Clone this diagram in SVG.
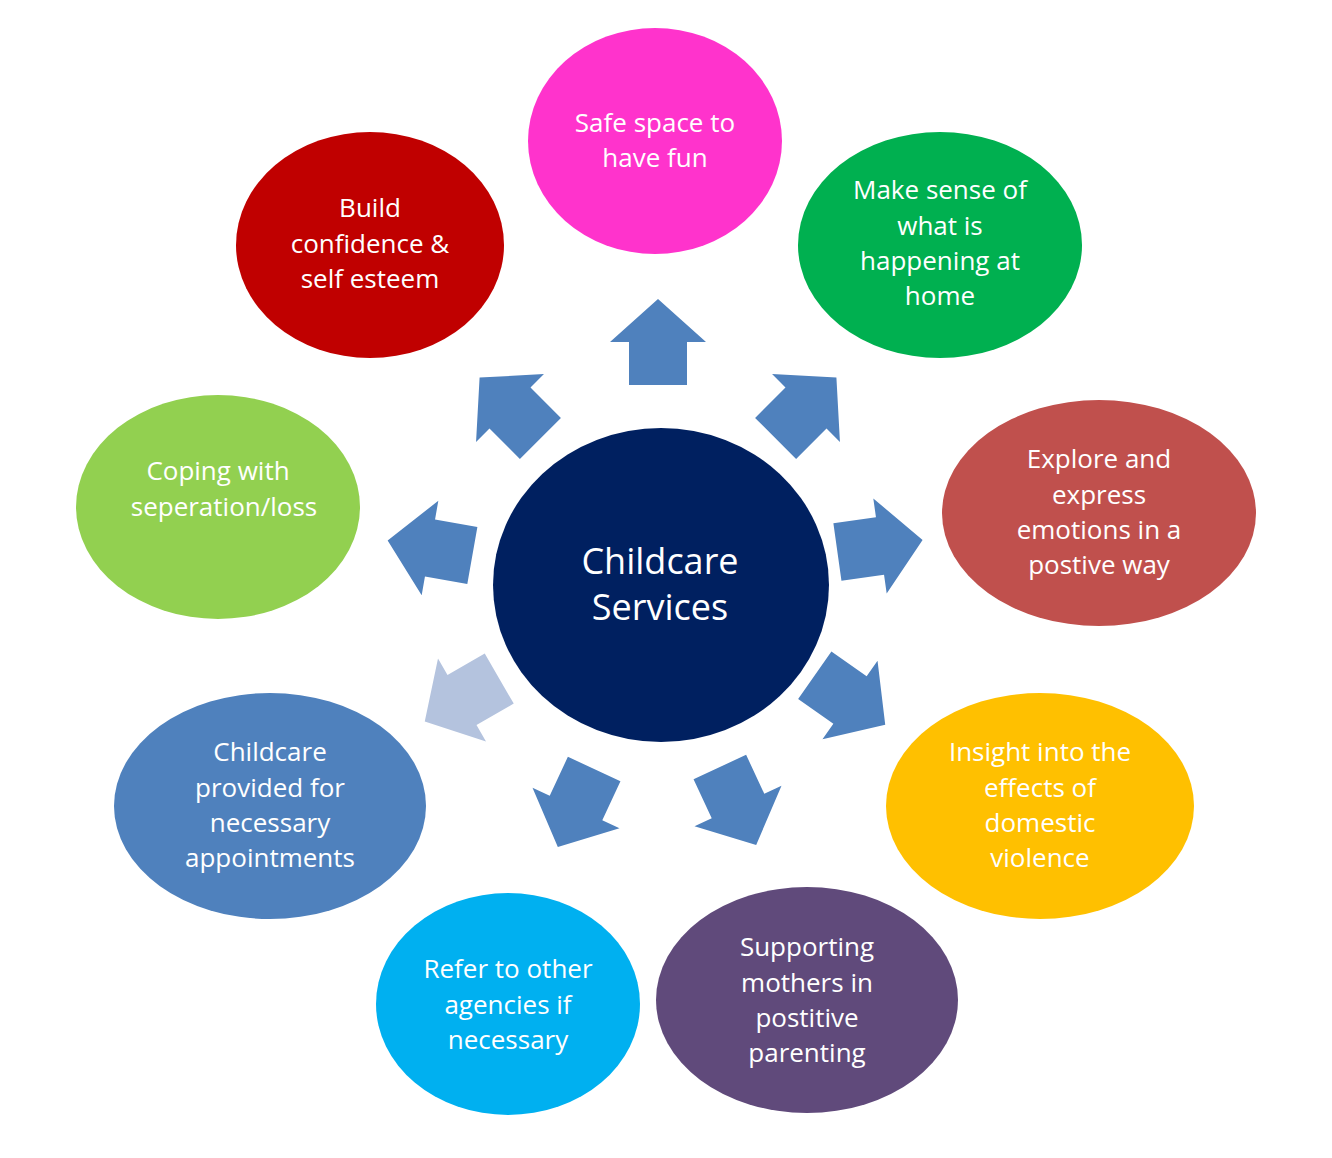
<svg xmlns="http://www.w3.org/2000/svg" width="1332" height="1158" viewBox="0 0 1332 1158">
<style>
text{font-family:"Open Sans","Noto Sans",sans-serif;fill:#fff;font-size:26px;text-anchor:middle}
.c{font-size:36px}
.a{fill:#4F81BD}
</style>
<defs><polygon id="arr" points="-29,43 29,43 29,0 48,0 0,-43 -48,0 -29,0"/></defs>
<rect width="1332" height="1158" fill="#fff"/>
<g id="connectors">
<use href="#arr" class="a" transform="translate(658,342)"/>
<use href="#arr" class="a" transform="translate(806,408) rotate(45)"/>
<use href="#arr" class="a" transform="translate(880,546) rotate(82)"/>
<use href="#arr" class="a" transform="translate(850,700) rotate(125)"/>
<use href="#arr" class="a" transform="translate(738,806) rotate(155)"/>
<use href="#arr" class="a" transform="translate(576,808) rotate(-155)"/>
<use href="#arr" fill="#B4C3DE" transform="translate(462,700) rotate(-120)"/>
<use href="#arr" class="a" transform="translate(430,548) rotate(-80)"/>
<use href="#arr" class="a" transform="translate(510,408) rotate(-45)"/>
</g>
<g id="center"><ellipse cx="661" cy="585" rx="168" ry="157" fill="#002060"/>
<text class="c" x="660" y="574">Childcare</text><text class="c" x="660" y="620">Services</text></g>
<g id="n1"><ellipse cx="655" cy="141" rx="127" ry="113" fill="#FF33CC"/>
<text x="655" y="132">Safe space to</text><text x="655" y="167">have fun</text></g>
<g id="n2"><ellipse cx="940" cy="245" rx="142" ry="113" fill="#00B050"/>
<text x="940" y="199">Make sense of</text><text x="940" y="235">what is</text><text x="940" y="270">happening at</text><text x="940" y="305">home</text></g>
<g id="n3"><ellipse cx="1099" cy="513" rx="157" ry="113" fill="#C0504D"/>
<text x="1099" y="468">Explore and</text><text x="1099" y="504">express</text><text x="1099" y="539">emotions in a</text><text x="1099" y="574">postive way</text></g>
<g id="n4"><ellipse cx="1040" cy="806" rx="154" ry="113" fill="#FFC000"/>
<text x="1040" y="761">Insight into the</text><text x="1040" y="797">effects of</text><text x="1040" y="832">domestic</text><text x="1040" y="867">violence</text></g>
<g id="n5"><ellipse cx="807" cy="1000" rx="151" ry="113" fill="#604A7B"/>
<text x="807" y="956">Supporting</text><text x="807" y="992">mothers in</text><text x="807" y="1027">postitive</text><text x="807" y="1062">parenting</text></g>
<g id="n6"><ellipse cx="508" cy="1004" rx="132" ry="111" fill="#00B0F0"/>
<text x="508" y="978">Refer to other</text><text x="508" y="1014">agencies if</text><text x="508" y="1049">necessary</text></g>
<g id="n7"><ellipse cx="270" cy="806" rx="156" ry="113" fill="#4F81BD"/>
<text x="270" y="761">Childcare</text><text x="270" y="797">provided for</text><text x="270" y="832">necessary</text><text x="270" y="867">appointments</text></g>
<g id="n8"><ellipse cx="218" cy="507" rx="142" ry="112" fill="#92D050"/>
<text x="218" y="480">Coping with</text><text x="224" y="516">seperation/loss</text></g>
<g id="n9"><ellipse cx="370" cy="245" rx="134" ry="113" fill="#C00000"/>
<text x="370" y="217">Build</text><text x="370" y="253">confidence &amp;</text><text x="370" y="288">self esteem</text></g>
</svg>
